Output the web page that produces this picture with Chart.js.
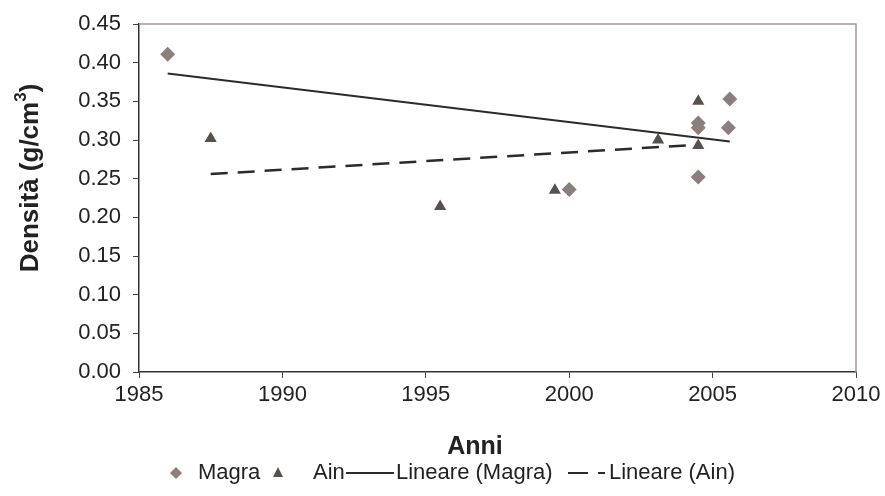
<!DOCTYPE html>
<html>
<head>
<meta charset="utf-8">
<script src="https://cdn.jsdelivr.net/npm/chart.js@4/dist/chart.umd.min.js"></script>
<style>
  html, body { margin: 0; padding: 0; background: #fff; }
  #wrap { width: 885px; height: 496px; position: relative; }
</style>
</head>
<body>
<div id="wrap"><canvas id="myChart" width="885" height="496"></canvas></div>
<script>
// data
const magraYears = [1986, 2000, 2004.5, 2004.5, 2004.5, 2005.6, 2005.55];
const magraDens  = [0.411, 0.236, 0.322, 0.316, 0.252, 0.353, 0.316];
const ainYears   = [1987.5, 1995.5, 1999.5, 2003.1, 2004.5, 2004.5];
const ainDens    = [0.302, 0.214, 0.235, 0.300, 0.350, 0.293];
// trend line ends (Lineare)
const magraTrendYears = [1986, 2005.6];
const magraTrendDens  = [0.386, 0.298];
const ainTrendYears   = [1987.5, 2004.5];
const ainTrendDens    = [0.256, 0.294];
const yTicks = [0, 0.05, 0.10, 0.15, 0.20, 0.25, 0.30, 0.35, 0.40, 0.45];
const xTicks = [1985, 1990, 1995, 2000, 2005, 2010];

const FONT = '"Liberation Sans", Arial, sans-serif';
const magraColor = '#8c7f7b';
const ainColor = '#58504d';
const lineColor = '#2b2b2b';

const toPts = (xs, ys) => xs.map((x, i) => ({x: x, y: ys[i]}));

//titles, legend and plot border drawn by hand
const extras = {
  id: 'extras',
  beforeDatasetsDraw(chart) {
    const ctx = chart.ctx, a = chart.chartArea;
    ctx.save();
    ctx.strokeStyle = '#a59696';
    ctx.lineWidth = 1.5;
    ctx.beginPath();
    ctx.moveTo(a.left, a.top);
    ctx.lineTo(a.right, a.top);
    ctx.lineTo(a.right, a.bottom);
    ctx.stroke();
    ctx.restore();
  },
  afterDraw(chart) {
    const ctx = chart.ctx;
    ctx.save();
    ctx.fillStyle = '#222';
    // x title
    ctx.font = 'bold 25px ' + FONT;
    ctx.textAlign = 'center';
    ctx.textBaseline = 'middle';
    ctx.fillText('Anni', 475, 447);

    // y title with superscript
    ctx.save();
    ctx.translate(31, 178);
    ctx.rotate(-Math.PI / 2);
    const main = 'Densità (g/cm';
    ctx.font = 'bold 26px ' + FONT;
    const wMain = ctx.measureText(main).width;
    const wClose = ctx.measureText(')').width;
    ctx.font = 'bold 17px ' + FONT;
    const wSup = ctx.measureText('3').width;
    let x = -(wMain + wSup + wClose) / 2;
    ctx.textAlign = 'left';
    ctx.font = 'bold 26px ' + FONT;
    ctx.fillText(main, x, 0);
    x += wMain;
    ctx.font = 'bold 17px ' + FONT;
    ctx.fillText('3', x, -10);
    x += wSup;
    ctx.font = 'bold 26px ' + FONT;
    ctx.fillText(')', x, 0);
    ctx.restore();

    // legend
    const ly = 473;
    ctx.font = '22px ' + FONT;
    ctx.textAlign = 'left';
    ctx.textBaseline = 'middle';
    // diamond
    ctx.fillStyle = magraColor;
    ctx.beginPath();
    ctx.moveTo(176, ly - 6); ctx.lineTo(182, ly); ctx.lineTo(176, ly + 6); ctx.lineTo(170, ly);
    ctx.closePath(); ctx.fill();
    ctx.fillStyle = '#222';
    ctx.fillText('Magra', 198, ly);
    // triangle
    ctx.fillStyle = ainColor;
    ctx.beginPath();
    ctx.moveTo(278, ly - 6); ctx.lineTo(283, ly + 4); ctx.lineTo(273, ly + 4);
    ctx.closePath(); ctx.fill();
    ctx.fillStyle = '#222';
    ctx.fillText('Ain', 313, ly);
    // solid line
    ctx.strokeStyle = lineColor;
    ctx.lineWidth = 2;
    ctx.beginPath(); ctx.moveTo(346, ly); ctx.lineTo(394, ly); ctx.stroke();
    ctx.fillText('Lineare (Magra)', 396, ly);
    // dashed line
    ctx.beginPath(); ctx.moveTo(568, ly); ctx.lineTo(588, ly); ctx.stroke();
    ctx.beginPath(); ctx.moveTo(598, ly); ctx.lineTo(605, ly); ctx.stroke();
    ctx.fillText('Lineare (Ain)', 609, ly);
    ctx.restore();
  }
};

const config = {
  type: 'scatter',
  data: {
    datasets: [
      {
        label: 'Magra',
        data: toPts(magraYears, magraDens),
        pointStyle: 'rectRot',
        pointRadius: 7.5,
        backgroundColor: magraColor,
        borderColor: magraColor,
        borderWidth: 0,
        order: 2
      },
      {
        label: 'Ain',
        data: toPts(ainYears, ainDens),
        pointStyle: 'triangle',
        pointRadius: 7,
        backgroundColor: ainColor,
        borderColor: ainColor,
        borderWidth: 0,
        order: 1
      },
      {
        label: 'Lineare (Magra)',
        data: toPts(magraTrendYears, magraTrendDens),
        showLine: true,
        pointRadius: 0,
        borderColor: lineColor,
        borderWidth: 2,
        order: 3
      },
      {
        label: 'Lineare (Ain)',
        data: toPts(ainTrendYears, ainTrendDens),
        showLine: true,
        pointRadius: 0,
        borderColor: lineColor,
        borderWidth: 2.5,
        borderDash: [17, 10],
        order: 3
      }
    ]
  },
  options: {
    responsive: false,
    animation: false,
    layout: { padding: { top: 24, right: 29, left: 0, bottom: 0 } },
    plugins: {
      legend: { display: false },
      tooltip: { enabled: false }
    },
    scales: {
      x: {
        type: 'linear',
        min: xTicks[0],
        max: xTicks[xTicks.length - 1],
        afterBuildTicks: (s) => { s.ticks = xTicks.map(v => ({value: v})); },
        afterFit: (s) => { s.height = 124; s.paddingLeft = 0; s.paddingRight = 0; },
        grid: { drawOnChartArea: false, drawTicks: true, tickLength: 6, color: '#444', lineWidth: 1 },
        border: { color: '#333', width: 1.5 },
        ticks: {
          font: { family: FONT, size: 22 }, color: '#222', padding: 4, maxRotation: 0,
          callback: (v) => String(v)
        }
      },
      y: {
        min: 0,
        max: 0.45,
        afterBuildTicks: (s) => { s.ticks = yTicks.map(v => ({value: v})); },
        afterFit: (s) => { s.width = 139; s.paddingTop = 0; s.paddingBottom = 0; },
        grid: { drawOnChartArea: false, drawTicks: true, tickLength: 6, color: '#444', lineWidth: 1 },
        border: { color: '#333', width: 1.5 },
        ticks: {
          font: { family: FONT, size: 22 }, color: '#222', padding: 12,
          callback: (v) => Number(v).toFixed(2)
        }
      }
    }
  },
  plugins: [extras]
};

const myChart = new Chart(document.getElementById('myChart'), config);
</script>
</body>
</html>
